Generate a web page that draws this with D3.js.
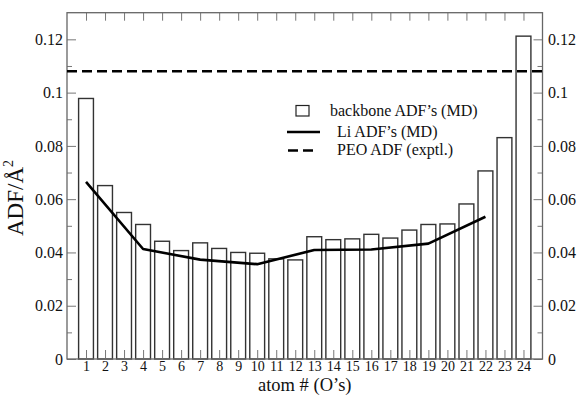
<!DOCTYPE html>
<html>
<head>
<meta charset="utf-8">
<script src="https://cdn.jsdelivr.net/npm/d3@7"></script>
<style>
  html, body { margin: 0; padding: 0; background: #fff; }
  svg { display: block; }
  text { font-family: "Liberation Serif", "Times New Roman", serif; fill: #111; }
</style>
</head>
<body>
<svg id="chart" width="578" height="395"></svg>
<script>
// Atom index along the chain (oxygen atoms)
const atoms = d3.range(1, 25);
// Backbone ADF per oxygen atom (MD)
const backboneADF = [0.0978, 0.0651, 0.0550, 0.0505, 0.0442, 0.0407, 0.0436, 0.0415,
                     0.0400, 0.0397, 0.0376, 0.0372, 0.0459, 0.0448, 0.0451, 0.0468,
                     0.0454, 0.0484, 0.0505, 0.0507, 0.0582, 0.0706, 0.0831, 0.1212];
// Li ADF (MD), sampled every third atom
const liAtoms = [1, 4, 7, 10, 13, 16, 19, 22];
const liADF = [0.0665, 0.0413, 0.0373, 0.0356, 0.0409, 0.0411, 0.0433, 0.0534];
// Experimental PEO ADF
const peoADF = 0.108;
// Axis ticks
const yTicks = [0, 0.02, 0.04, 0.06, 0.08, 0.1, 0.12];
const yTickLabels = ["0", "0.02", "0.04", "0.06", "0.08", "0.1", "0.12"];
const yMinorTicks = [0.01, 0.03, 0.05, 0.07, 0.09, 0.11];
const legendLabels = ["backbone ADF\u2019s (MD)", "Li ADF\u2019s (MD)", "PEO ADF (exptl.)"];

const svg = d3.select("#chart");
const plotLeft = 67, plotRight = 542.5, plotTop = 12.7, plotBottom = 359;

const x = d3.scaleLinear().domain([0, 25]).range([plotLeft, plotRight]);
const y = d3.scaleLinear().domain([0, 0.13]).range([plotBottom, plotTop]);

const frameColor = "#666", tickColor = "#777";
const serif = "'Liberation Serif', 'Times New Roman', serif";

// Bars
const barW = 0.78;
svg.append("g").selectAll("rect")
  .data(atoms)
  .join("rect")
  .attr("x", (d) => x(d - barW / 2))
  .attr("width", x(barW) - x(0))
  .attr("y", (d, i) => y(backboneADF[i]))
  .attr("height", (d, i) => y(0) - y(backboneADF[i]))
  .attr("fill", "#fff")
  .attr("stroke", "#333")
  .attr("stroke-width", 1.4);

// Axes (ticks pointing inward), serif labels
function styleAxis(g, size) {
  g.attr("font-family", serif).attr("font-size", size || 15);
  g.select(".domain").remove();
  g.selectAll(".tick line").attr("stroke", tickColor).attr("stroke-width", 1);
  g.selectAll(".tick text").attr("fill", "#111")
    .style("font-family", serif).style("font-size", (size || 15) + "px");
}
const labelFor = (d) => yTickLabels[yTicks.indexOf(d)];

svg.append("g").attr("transform", `translate(0,${plotBottom})`)
  .call(d3.axisBottom(x).tickValues(atoms).tickSizeInner(-9).tickSizeOuter(0).tickPadding(2.5))
  .call(styleAxis, 14);

svg.append("g").attr("transform", `translate(0,${plotTop})`)
  .call(d3.axisTop(x).tickValues(atoms).tickSizeInner(-8).tickSizeOuter(0).tickFormat(""))
  .call(styleAxis);

svg.append("g").attr("transform", `translate(${plotLeft},0)`)
  .call(d3.axisLeft(y).tickValues(yTicks).tickFormat(labelFor).tickSizeInner(-9).tickSizeOuter(0).tickPadding(4))
  .call(styleAxis, 16);

svg.append("g").attr("transform", `translate(${plotLeft},0)`)
  .call(d3.axisLeft(y).tickValues(yMinorTicks).tickFormat("").tickSizeInner(-5).tickSizeOuter(0))
  .call(styleAxis);

svg.append("g").attr("transform", `translate(${plotRight},0)`)
  .call(d3.axisRight(y).tickValues(yTicks).tickFormat(labelFor).tickSizeInner(-9).tickSizeOuter(0).tickPadding(5.5))
  .call(styleAxis, 16);

svg.append("g").attr("transform", `translate(${plotRight},0)`)
  .call(d3.axisRight(y).tickValues(yMinorTicks).tickFormat("").tickSizeInner(-5).tickSizeOuter(0))
  .call(styleAxis);

// Frame
svg.append("rect")
  .attr("x", plotLeft).attr("y", plotTop)
  .attr("width", plotRight - plotLeft).attr("height", plotBottom - plotTop)
  .attr("fill", "none").attr("stroke", frameColor).attr("stroke-width", 1.3);

// Li ADF line
const line = d3.line().x((d) => x(d[0])).y((d) => y(d[1]));
svg.append("path")
  .datum(liAtoms.map((a, i) => [a, liADF[i]]))
  .attr("d", line)
  .attr("fill", "none").attr("stroke", "#000").attr("stroke-width", 2.6)
  .attr("stroke-linejoin", "round");

// Experimental PEO ADF
svg.append("line")
  .attr("x1", x(0)).attr("x2", x(25))
  .attr("y1", y(peoADF)).attr("y2", y(peoADF))
  .attr("stroke", "#000").attr("stroke-width", 2.4)
  .attr("stroke-dasharray", "10,5");

// Legend
const lg = svg.append("g");
lg.append("rect").attr("x", 296).attr("y", 105.5).attr("width", 13).attr("height", 10.5)
  .attr("fill", "#fff").attr("stroke", "#222").attr("stroke-width", 1.2);
lg.append("text").attr("x", 330).attr("y", 116).style("font-size", "16px").text(legendLabels[0]);
lg.append("line").attr("x1", 287).attr("x2", 320).attr("y1", 132).attr("y2", 132)
  .attr("stroke", "#000").attr("stroke-width", 2.4);
lg.append("text").attr("x", 337).attr("y", 136.8).style("font-size", "16px").text(legendLabels[1]);
lg.append("line").attr("x1", 288).attr("x2", 318).attr("y1", 150.5).attr("y2", 150.5)
  .attr("stroke", "#000").attr("stroke-width", 2.4).attr("stroke-dasharray", "10,5");
lg.append("text").attr("x", 337).attr("y", 155).style("font-size", "16px").text(legendLabels[2]);

// Axis titles
svg.append("text")
  .attr("x", (plotLeft + plotRight) / 2).attr("y", 390.8)
  .attr("text-anchor", "middle").style("font-size", "18.5px")
  .text("atom # (O\u2019s)");

const yt = svg.append("text")
  .attr("transform", "translate(22.5,198) rotate(-90)")
  .attr("text-anchor", "middle").style("font-size", "23px");
yt.append("tspan").text("ADF/\u00C5");
yt.append("tspan").attr("dy", -9.5).style("font-size", "14px").text("2");
</script>
</body>
</html>
